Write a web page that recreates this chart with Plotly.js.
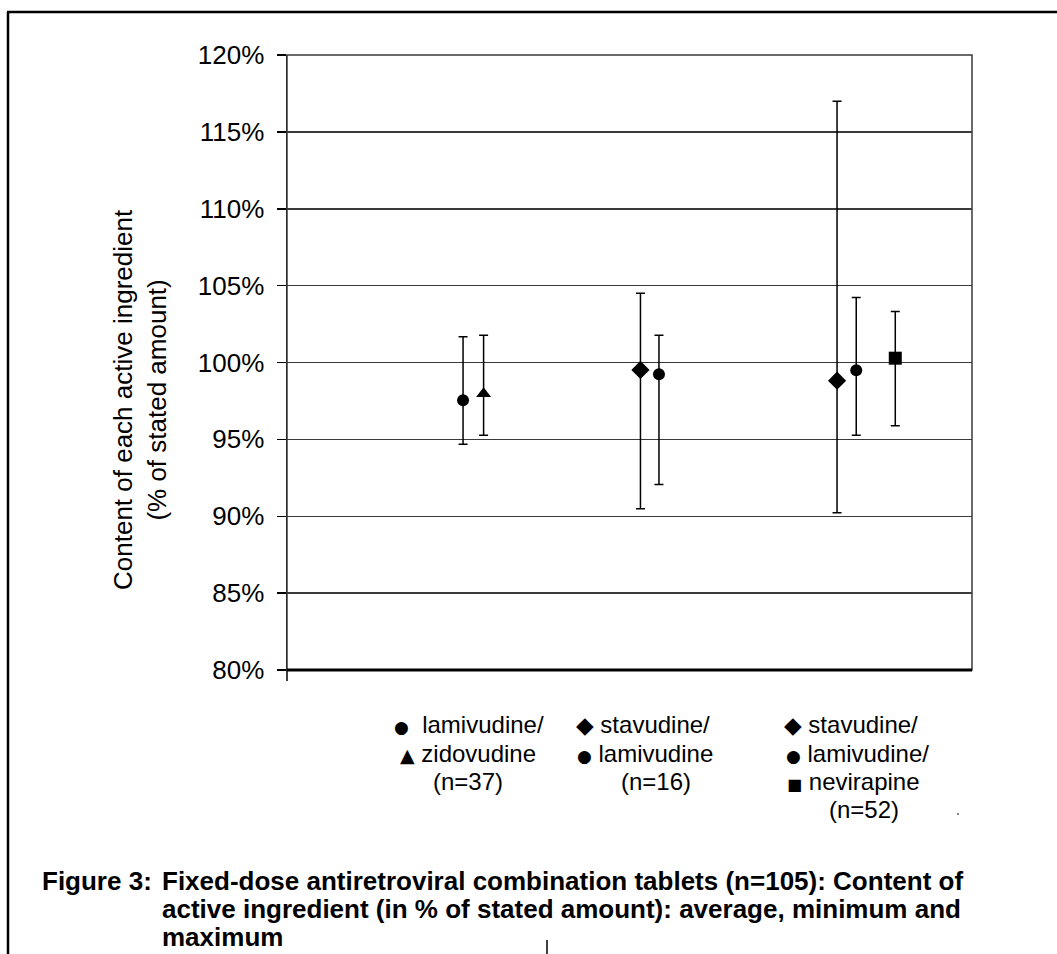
<!DOCTYPE html>
<html><head><meta charset="utf-8">
<script src="https://cdn.plot.ly/plotly-3.0.1.min.js"></script>
<style>html,body{margin:0;padding:0;background:#fff;}#chart{width:1057px;height:954px;}</style>
</head><body><div id="chart"></div>
<script>
// ---- data ----
const lamivudineX   = [2.57, 5.43, 8.31];
const lamivudineAvg = [97.55, 99.24, 99.50];
const lamivudineMin = [94.69, 92.06, 95.27];
const lamivudineMax = [101.68, 101.77, 104.22];

const zidovudineX   = [2.87];
const zidovudineAvg = [97.96];
const zidovudineMin = [95.27];
const zidovudineMax = [101.77];

const stavudineX   = [5.16, 8.03];
const stavudineAvg = [99.52, 98.82];
const stavudineMin = [90.48, 90.22];
const stavudineMax = [104.50, 117.00];

const nevirapineX   = [8.88];
const nevirapineAvg = [100.28];
const nevirapineMin = [95.88];
const nevirapineMax = [103.31];

const yTickVals = [80, 85, 90, 95, 100, 105, 110, 115, 120];
const yTickText = ['80%', '85%', '90%', '95%', '100%', '105%', '110%', '115%', '120%'];

const group1 = [['●', '  lamivudine/'], ['▲', ' zidovudine'], ['', '(n=37)']];
const group2 = [['◆', ' stavudine/'], ['●', ' lamivudine'], ['', '(n=16)']];
const group3 = [['◆', ' stavudine/'], ['●', ' lamivudine/'], ['■', ' nevirapine'], ['', '(n=52)']];

const yTitleLines = ['Content of each active ingredient', '(% of stated amount)'];
const captionLabel = 'Figure 3:';
const captionLines = [
  'Fixed-dose antiretroviral combination tablets (n=105): Content of',
  'active ingredient (in % of stated amount): average, minimum and',
  'maximum'
];

// ---- helpers ----
const W = 1057, H = 954;
const L = 287, R = 972, T = 55, B = 670;
const px = x => (x - L) / (R - L);
const py = y => (B - y) / (B - T);
const FONT = 'Liberation Sans, Arial, Helvetica, sans-serif';
const SYM_SIZE = {'●': 17, '▲': 19, '◆': 23, '■': 16};

function series(name, xs, avg, mn, mx, symbol, size) {
  return {
    type: 'scatter', mode: 'markers', name: name,
    x: xs, y: avg,
    marker: {symbol: symbol, size: size, color: '#000'},
    error_y: {
      type: 'data', symmetric: false,
      array: avg.map((v, i) => mx[i] - v),
      arrayminus: avg.map((v, i) => v - mn[i]),
      color: '#000', thickness: 1.5, width: 4.5
    },
    hoverinfo: 'x+y', showlegend: false
  };
}

const data = [
  series('lamivudine', lamivudineX, lamivudineAvg, lamivudineMin, lamivudineMax, 'circle', 12),
  series('zidovudine', zidovudineX, zidovudineAvg, zidovudineMin, zidovudineMax, 'triangle-up', 13),
  series('stavudine', stavudineX, stavudineAvg, stavudineMin, stavudineMax, 'diamond', 14),
  series('nevirapine', nevirapineX, nevirapineAvg, nevirapineMin, nevirapineMax, 'square', 13)
];

// ---- annotations ----
const annotations = [];
function addGroup(lines, centers, ys) {
  lines.forEach((ln, i) => {
    const sym = ln[0]
      ? '<span style="font-family:\'DejaVu Sans\';font-size:' + SYM_SIZE[ln[0]] + 'px">' + ln[0] + '</span>'
      : '';
    annotations.push({
      xref: 'paper', yref: 'paper', x: px(centers[i]), y: py(ys[i]),
      xanchor: 'center', yanchor: 'middle', showarrow: false,
      text: sym + ln[1], font: {family: FONT, size: 24, color: '#000'}
    });
  });
}
addGroup(group1, [469, 468, 468], [724, 753, 781]);
addGroup(group2, [643, 645, 656], [724, 753, 781]);
addGroup(group3, [851, 857, 853, 864], [724, 753, 781, 809]);

annotations.push({
  xref: 'paper', yref: 'paper', x: px(140), y: py(400),
  xanchor: 'center', yanchor: 'middle', showarrow: false, textangle: -90,
  text: yTitleLines.join('<br>'), font: {family: FONT, size: 26, color: '#000'}
});

annotations.push({
  xref: 'paper', yref: 'paper', x: px(40), y: py(881),
  xanchor: 'left', yanchor: 'middle', showarrow: false,
  text: '<b>' + captionLabel + '</b>', font: {family: FONT, size: 26, color: '#000'}
});
captionLines.forEach((t, i) => {
  annotations.push({
    xref: 'paper', yref: 'paper', x: px(160), y: py(881 + i * 28),
    xanchor: 'left', yanchor: 'middle', showarrow: false,
    text: '<b>' + t + '</b>', font: {family: FONT, size: 26, color: '#000'}
  });
});

// ---- shapes ----
const shapes = [
  {type: 'rect', xref: 'paper', yref: 'paper', x0: 0, x1: 1, y0: 0, y1: 1,
   line: {color: '#3a3a3a', width: 1.5}},
  {type: 'line', xref: 'paper', yref: 'paper', x0: 0, x1: 1, y0: 0, y1: 0,
   line: {color: '#000', width: 3}},
  {type: 'line', xref: 'paper', yref: 'paper', x0: 0, x1: 0, y0: 0, y1: py(681),
   line: {color: '#000', width: 1.5}},
  {type: 'line', xref: 'paper', yref: 'paper', x0: px(8), x1: px(8), y0: py(12), y1: py(960),
   line: {color: '#000', width: 2.5}},
  {type: 'line', xref: 'paper', yref: 'paper', x0: px(7), x1: px(1060), y0: py(12), y1: py(12),
   line: {color: '#000', width: 2.5}},
  {type: 'line', xref: 'paper', yref: 'paper', x0: px(547), x1: px(547), y0: py(940), y1: py(960),
   line: {color: '#000', width: 1.5}},
  {type: 'rect', xref: 'paper', yref: 'paper', x0: px(957), x1: px(959), y0: py(815), y1: py(813),
   line: {width: 0}, fillcolor: '#888'}
];

const layout = {
  width: W, height: H,
  margin: {l: L, r: W - R, t: T, b: H - B, pad: 0},
  paper_bgcolor: '#fff', plot_bgcolor: '#fff',
  showlegend: false,
  font: {family: FONT, color: '#000'},
  xaxis: {range: [0, 10], showgrid: false, zeroline: false, showticklabels: false,
          showline: false, ticks: '', fixedrange: true},
  yaxis: {range: [80, 120], tickvals: yTickVals, ticktext: yTickText,
          showgrid: true, gridcolor: '#3a3a3a', gridwidth: 1.5, zeroline: false,
          showline: true, linecolor: '#000', linewidth: 1.5,
          ticks: 'outside', ticklen: 9, tickwidth: 1.5, tickcolor: '#000',
          ticklabelstandoff: 7,
          tickfont: {family: FONT, size: 26, color: '#000'}, fixedrange: true},
  annotations: annotations,
  shapes: shapes
};

Plotly.newPlot('chart', data, layout, {displayModeBar: false, staticPlot: true});
</script>
</body></html>
